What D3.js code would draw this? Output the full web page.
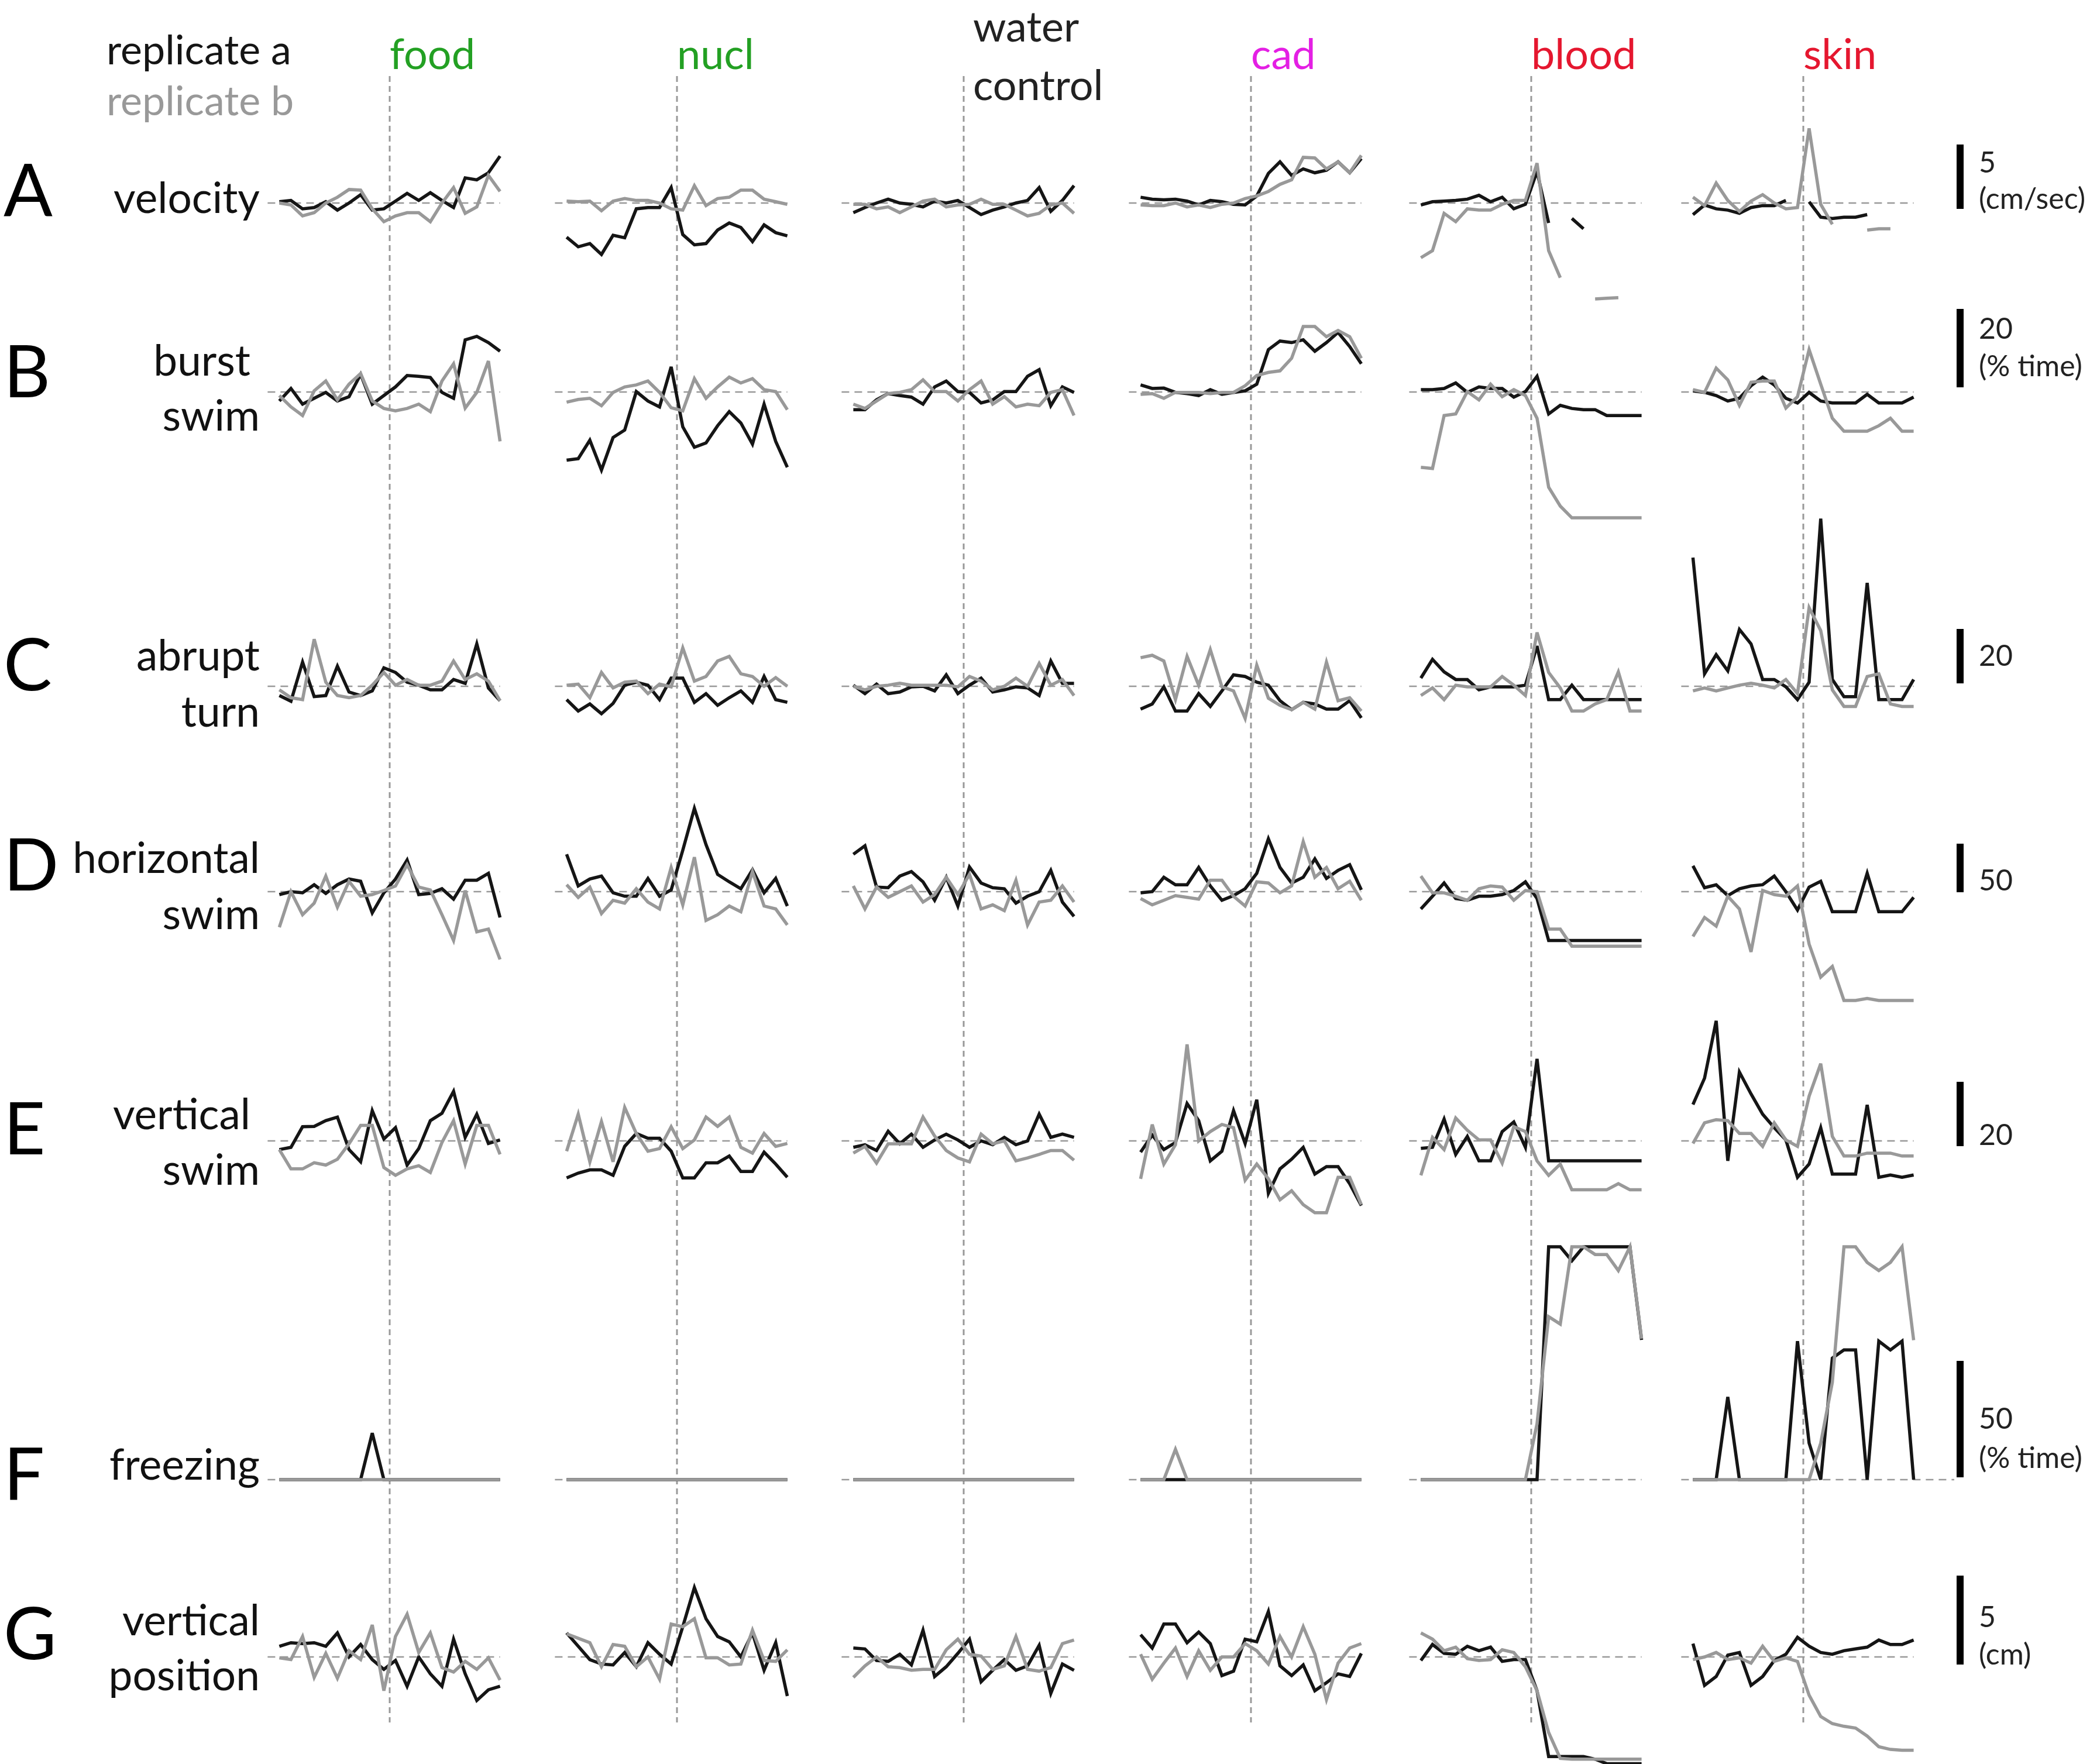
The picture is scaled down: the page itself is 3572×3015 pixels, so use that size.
<!DOCTYPE html>
<html>
<head>
<meta charset="utf-8">
<script src="https://cdn.jsdelivr.net/npm/d3@7"></script>
<style>
    html, body { margin: 0; padding: 0; background: #fff; }
    svg { display: block; font-family: Lato, "Open Sans", sans-serif; }
</style>
</head>
<body>
<svg id="chart" width="3572" height="3015"></svg>
<script>
// columns (stimulus) and rows (behaviour measure)
var conditions = [["food"], ["nucl"], ["water", "control"], ["cad"], ["blood"], ["skin"]];
var conditionColors = ["#23a023", "#23a023", "#222222", "#e41fe4", "#e5172f", "#e5172f"];
var rowLetters = ["A", "B", "C", "D", "E", "F", "G"];
var rowLabels = [["velocity"], ["burst", "swim"], ["abrupt", "turn"], ["horizontal", "swim"],
    ["vertical", "swim"], ["freezing"], ["vertical", "position"]];
var scaleValues = [5, 20, 20, 50, 20, 50, 5];
var scaleLabels = [["5", "(cm/sec)"], ["20", "(% time)"], ["20"], ["50"], ["20"], ["50", "(% time)"], ["5", "(cm)"]];
var replicates = ["replicate a", "replicate b"];

// values per column: food, nucl, water, cad, blood, skin (20 time bins each)
var velocity_a = [
    [0.1, 0.2, -0.45, -0.35, 0.1, -0.55, 0, 0.65, -0.55, -0.45, 0.15, 0.75, 0.2, 0.8, 0.2, -0.35, 1.95, 1.8, 2.35, 3.65],
    [-2.65, -3.4, -3.15, -4, -2.5, -2.7, -0.45, -0.35, -0.35, 1.2, -2.45, -3.25, -3.15, -2.1, -1.55, -1.9, -3, -1.7, -2.3, -2.55],
    [-0.75, -0.35, 0, 0.3, 0, -0.1, -0.3, 0.15, 0, 0.2, -0.35, -0.9, -0.55, -0.3, 0, 0.2, 1.2, -0.65, 0.2, 1.35],
    [0.45, 0.3, 0.25, 0.3, 0.15, -0.15, 0.2, 0.1, -0.1, -0.15, 0.55, 2.3, 3.2, 2.15, 2.65, 2.35, 2.55, 3.2, 2.35, 3.45],
    [-0.15, 0.1, 0.15, 0.2, 0.3, 0.6, 0.1, 0.45, -0.45, -0.1, 2.45, -1.55, null, -1.2, -2, null, null, null, null, null],
    [-0.9, -0.15, -0.45, -0.55, -0.8, -0.35, -0.2, -0.2, 0.2, null, 0.1, -1.1, -1.2, -1.1, -1.1, -0.9, null, null, null, null]
];
var velocity_b = [
    [0, -0.15, -1, -0.75, 0, 0.45, 1.05, 1, -0.45, -1.45, -1, -0.75, -0.75, -1.45, 0, 1.2, -0.8, -0.3, 2.15, 0.9],
    [0.15, 0.1, 0.15, -0.6, 0.15, 0.35, 0.2, 0.2, 0, -0.45, -0.55, 1.35, -0.2, 0.35, 0.45, 1, 1, 0.3, 0.1, -0.1],
    [-0.1, -0.1, -0.45, -0.3, -0.75, -0.3, 0.15, 0.3, -0.3, -0.15, -0.1, 0.3, -0.1, -0.1, -0.55, -1, -0.8, -0.15, 0, -0.8],
    [-0.15, -0.2, -0.2, 0, -0.3, -0.15, -0.35, -0.1, 0, 0.35, 0.55, 0.9, 1.45, 1.8, 3.55, 3.5, 2.65, 3.2, 2.35, 3.7],
    [-4.25, -3.7, -0.8, -1.45, -0.45, -0.55, -0.55, -0.1, 0.2, 0.2, 3.1, -3.7, -5.8, null, null, -7.45, -7.4, -7.35, null, null],
    [0.45, -0.2, 1.55, 0.2, -0.65, 0.15, 0.65, 0, -0.45, -0.35, 5.8, -0.1, -1.65, null, null, -2.1, -2, -2, null, null]
];
var burst_a = [
    [-2.3, 0.9, -3.1, -1.6, -0.1, -2.3, -1.2, 4.5, -3.1, -0.9, 1.3, 4.2, 4, 3.7, -0.1, -1.6, 13.3, 14.2, 12.6, 10.4],
    [-17.4, -17, -12.3, -19.9, -11.6, -9.7, 0.1, -2.3, -3.8, 6.4, -8.9, -14.1, -13, -8.6, -5, -7.9, -13.3, -3.1, -12.6, -19.2],
    [-4.5, -4.5, -2, -0.4, -0.9, -1.3, -3.1, 1.3, 2.8, 0.1, -0.1, -2.8, -2, 0.1, 0.1, 4, 5.7, -3.5, 1.3, -0.1],
    [1.8, 0.9, 1, -0.1, -0.4, -0.9, 0.6, -0.6, -0.1, 0.3, 2, 10.8, 13, 12.6, 13.3, 10.4, 12.6, 15.2, 11.6, 7.2],
    [0.6, 0.6, 0.9, 2.3, -0.1, 1.3, 0.9, 0.9, -1.3, 0.1, 4, -5.6, -3.4, -4.2, -4.5, -4.5, -6, -6, -6, -6],
    [0.3, -0.1, -0.9, -2.3, -1.6, 1.6, 3.8, 1.8, -1.6, -2.8, -0.1, -2.3, -2.8, -2.8, -2.8, -0.6, -2.8, -2.8, -2.8, -1.3]
];
var burst_b = [
    [-0.9, -3.8, -6, 0.3, 2.8, -2, 2, 4.7, -2.3, -4.2, -4.8, -4.2, -3.1, -5, 2.8, 7.2, -4.1, -0.1, 7.9, -12.6],
    [-2.6, -1.9, -1.6, -3.5, -0.1, 1.3, 1.8, 2.8, -0.1, -4, -4.8, 3.4, -1.6, 1.3, 3.8, 2.3, 3.4, 0.6, 0.1, -4.5],
    [-3.1, -4.2, -2.3, -0.4, -0.1, 0.6, 3.1, 0.1, 0.1, -2.3, 0.6, 2.8, -3.1, -1.2, -3.8, -3.1, -3.5, -0.1, 0.6, -6],
    [-0.6, -0.4, -1.6, -0.1, -0.1, -0.1, -0.4, -0.1, -0.1, 1.6, 4.2, 5, 5.4, 8.6, 16.7, 16.7, 14.1, 15.7, 14.1, 8.6],
    [-19.2, -19.5, -6, -5.6, 0.1, -2, 2, -1.2, 0.6, -0.9, -6.7, -24.3, -29.1, -32.1, -32.1, -32.1, -32.1, -32.1, -32.1, -32.1],
    [0.6, -0.1, 6.1, 3.1, -3.4, 2.5, 2.8, 2.8, -4.1, -1.2, 10.8, 2, -6.7, -10, -10, -10, -8.6, -6.7, -10, -10]
];
var turn_a = [
    [-3.4, -5.5, 8.9, -3.8, -3.4, 7.4, -2.1, -3.4, -1.7, 6.8, 5.1, 1.5, 0.4, -1.3, -1.3, 2.5, 1.1, 15.6, -0.6, -5.3],
    [-4.9, -9.1, -6.5, -10.1, -6.3, 0.4, 1.5, 0.4, -4.9, 3, 3, -5.9, -2.7, -7, -4.2, -1.7, -5.9, 3.6, -4.9, -5.9],
    [0.4, -2.7, 0.8, -2.7, -2.1, -0.2, 0, -1.7, 4.2, -2.7, 0.4, 3, -2.1, -1.3, -0.2, -0.6, -3.4, 9.3, 1.1, 1.1],
    [-8.4, -6.5, -0.2, -9.1, -9.1, -2.7, -7.4, -1.7, 4.2, 3.6, 1.5, 0.4, -5.3, -8.6, -5.9, -6.5, -8.4, -8.4, -5.3, -11.6],
    [3, 9.9, 5.3, 2.5, 2.5, -1.3, -0.2, -0.2, -0.2, 0.4, 14.8, -4.9, -4.9, 0.4, -4.9, -4.9, -4.9, -4.9, -4.9, -4.9],
    [47.3, 4.6, 11.6, 5.7, 20.9, 15.6, 2.5, 2.5, -0.2, -4.9, 1.5, 61.6, 2.5, -3.8, -3.8, 38, -4.9, -4.9, -4.9, 2.5]
];
var turn_b = [
    [-1.3, -4.2, -4.9, 17.3, 1.5, -3.4, -4.2, -3.4, 0.4, 5.1, 0.4, 2.5, 0.4, 0.4, 1.9, 9.3, 2.5, 4.6, 1.9, -5.3],
    [0.4, 0.8, -4.2, 5.1, -0.6, 1.5, 1.9, -2.7, 0.8, -0.2, 14.1, 1.9, 3.6, 9.3, 11, 4.6, 3.6, 0, 3.2, 0],
    [0, -1.3, 0, 0.4, 1.1, 0.4, 0.4, 0.4, 0.4, -0.2, 3.6, 1.9, -1.3, 0, 3, 0, 8.4, 0.4, 2.5, -3.4],
    [10.5, 11.4, 9.3, -4.9, 11, 0.4, 13.5, -0.2, -1.7, -11.8, 7.8, -4.4, -7, -8.6, -5.9, -8.4, 8.9, -5.3, -4.2, -9.1],
    [-3.4, -0.6, -4.9, 0.4, -0.2, -0.2, -0.2, 3.6, 0.4, -3.4, 19.8, 5.1, -0.6, -9.1, -9.1, -6.5, -4.9, 5.3, -9.1, -9.1],
    [-1.7, -0.6, -1.7, -0.6, 0.4, 1.1, 0.4, -0.6, 2.5, -2.7, 28.9, 20.5, -1.3, -7.4, -7.4, 3.6, 4.6, -6.5, -7.4, -7.4]
];
var horiz_a = [
    [-3, 0, -1.2, 7.1, -1.8, 7.1, 13, 10.7, -21.9, -1.2, 13, 32.5, -3, -1.8, 3, -7.7, 11.8, 11.8, 18.9, -26.6],
    [38.5, 5.9, 13, 16, -1.2, -4.7, -4.7, 13.6, -4.7, 1.8, 42.6, 85.8, 48.5, 17.8, 10.1, 3, 22.5, -1.2, 13.6, -14.8],
    [38.5, 47.3, 4.7, 4.1, 16, 20.7, 10.1, -8.9, 14.8, -14.8, 25.4, 8.9, 4.1, 3, -11.8, -4.7, 0, 21.9, -10.7, -25.4],
    [-1.2, 0, 14.8, 7.1, 7.1, 24.9, 5.9, -8.9, -4.1, 3, 18.9, 54.4, 24.9, 8.9, 14.8, 33.7, 13.6, 21.9, 27.8, 1.8],
    [-17.8, -4.7, 8.9, -7.1, -8.9, -4.7, -4.7, -3, 1.2, 10.1, -7.1, -50.3, -50.3, -50.3, -50.3, -50.3, -50.3, -50.3, -50.3, -50.3],
    [26.6, 4.1, 7.1, -4.1, 3, 5.9, 7.1, 16, 0, -18.9, 4.7, 10.7, -20.7, -20.7, -20.7, 18.9, -20.7, -20.7, -20.7, -5.9]
];
var horiz_b = [
    [-36.7, 0, -23.7, -11.8, 16, -16, 10.7, -4.7, -3, 1.2, 5.9, 27.8, 4.7, 1.8, -23.7, -50.3, 1.2, -41.4, -38.5, -69.8],
    [7.1, -5.9, 4.7, -22.5, -8.9, -11.8, 3, -10.7, -17.8, 24.9, -13.6, 35.5, -29.6, -23.7, -14.8, -20.7, 20.7, -14.8, -17.8, -34.3],
    [5.9, -17.8, 4.7, -5.9, 0, 5.9, -10.7, -3, 14.8, -3, 17.8, -17.8, -13.6, -19.5, 11.8, -34.3, -10.7, -8.9, 5.9, -10.7],
    [-7.1, -13.6, -8.9, -4.1, -5.9, -7.7, 11.8, 11.8, -4.7, -14.8, 10.1, 8.9, -1.2, 5.9, 51.5, 14.8, 24.9, 3, 10.7, -8.9],
    [16, -1.2, -1.2, -4.7, -8.9, 3, 5.9, 4.7, -8.9, 1.2, 0, -38.5, -38.5, -56.2, -56.2, -56.2, -56.2, -56.2, -56.2, -56.2],
    [-46.2, -26.6, -35.5, -4.7, -17.8, -62.1, 1.2, -3, -4.7, 5.9, -54, -88, -77, -112, -112, -110, -112, -112, -112, -112]
];
var vswim_a = [
    [-2.7, -2, 4.4, 4.5, 6.3, 7.4, -2.7, -6.5, 9.4, 0.6, 4.1, -7.5, -2.4, 6.3, 8.6, 15.4, 1.1, 8.3, -0.8, 0.3],
    [-11.5, -10, -9, -9, -10.7, -1.7, 2.3, 0.8, 0.8, -3.2, -11.5, -11.5, -6.8, -6.8, -4.7, -9.5, -9.5, -3.5, -7.2, -11.3],
    [-2, -1.2, -3, 3, -0.9, 2.1, -2, 0.3, 2.1, 0.3, -2, 0, -1.2, 1.1, -1.2, 0, 8.3, 1.1, 2.1, 1.1],
    [-3.5, 1.8, -2.7, -0.5, 11.6, 6.3, -6.2, -3.2, 9.4, -0.8, 12.8, -16.3, -8.7, -5.7, -2, -10.3, -8, -8, -13.3, -20.1],
    [-2.3, -2, 6.8, -4.2, 1.4, -6.2, -6.2, 2.9, 5.9, -2, 25.5, -6.2, -6.2, -6.2, -6.2, -6.2, -6.2, -6.2, -6.2, -6.2],
    [11.3, 19.5, 37.3, -6.2, 21.4, 14.6, 8.3, 4.1, 0.3, -11.3, -7.2, 4.1, -10.3, -10.3, -10.3, 11.2, -11.3, -10.6, -11.3, -10.6]
];
var vswim_b = [
    [-2.7, -8.7, -8.7, -6.8, -7.5, -5.7, -0.9, 4.8, 4.8, -8.3, -10.7, -8.7, -7.7, -9.8, -0.5, 6.3, -7.2, 4.8, 4.8, -4.2],
    [-3.2, 8.3, -6.5, 6, -6.5, 10.4, 2.3, -3.2, -2.4, 4.4, -2.4, 0.3, 7.4, 4.5, 7.4, -2, -3.8, 2.3, -1.7, -0.8],
    [-3.8, -1.7, -6.9, -0.9, -0.9, -0.9, 7.4, 1.5, -3, -5.3, -6.5, 2.1, -0.9, 0, -6.2, -5.3, -4.2, -3, -3, -6],
    [-11.8, 5.1, -7.2, -1.2, 30, 0, 2.9, 5.1, 4.1, -12.2, -7.2, -11.8, -18.3, -15.5, -19.8, -22.3, -22.3, -11.3, -11.3, -19.8],
    [-10.7, 1.1, -2.7, 7.1, 3.3, 0.3, 0.3, -6.9, 4.4, 2.9, -6.2, -10.7, -7.2, -15.2, -15.2, -15.2, -15.2, -13.3, -15.2, -15.2],
    [-0.8, 5.6, 6.6, 6.3, 2.3, 2.3, -1.7, 5.6, 0.3, -1.7, 13.9, 24, 1.4, -4.7, -4.7, -3.8, -3.8, -3.8, -4.7, -4.7]
];
var freeze_a = [
    [0, 0, 0, 0, 0, 0, 0, 0, 20, 0, 0, 0, 0, 0, 0, 0, 0, 0, 0, 0],
    [0, 0, 0, 0, 0, 0, 0, 0, 0, 0, 0, 0, 0, 0, 0, 0, 0, 0, 0, 0],
    [0, 0, 0, 0, 0, 0, 0, 0, 0, 0, 0, 0, 0, 0, 0, 0, 0, 0, 0, 0],
    [0, 0, 0, 0, 0, 0, 0, 0, 0, 0, 0, 0, 0, 0, 0, 0, 0, 0, 0, 0],
    [0, 0, 0, 0, 0, 0, 0, 0, 0, 0, 0, 100, 100, 94, 100, 100, 100, 100, 100, 60],
    [0, 0, 0, 35.5, 0, 0, 0, 0, 0, 59.5, 15.7, 0, 52.2, 55.7, 55.7, 0, 59.5, 55.7, 59.5, 0]
];
var freeze_b = [
    [0, 0, 0, 0, 0, 0, 0, 0, 0, 0, 0, 0, 0, 0, 0, 0, 0, 0, 0, 0],
    [0, 0, 0, 0, 0, 0, 0, 0, 0, 0, 0, 0, 0, 0, 0, 0, 0, 0, 0, 0],
    [0, 0, 0, 0, 0, 0, 0, 0, 0, 0, 0, 0, 0, 0, 0, 0, 0, 0, 0, 0],
    [0, 0, 0, 13, 0, 0, 0, 0, 0, 0, 0, 0, 0, 0, 0, 0, 0, 0, 0, 0],
    [0, 0, 0, 0, 0, 0, 0, 0, 0, 0, 24, 70, 66.8, 100, 100, 96.7, 96.7, 89.8, 100, 60.5],
    [0, 0, 0, 0, 0, 0, 0, 0, 0, 0, 0, 15.7, 41.8, 100, 100, 93.3, 89.8, 93.3, 100, 59.9]
];
var vpos_a = [
    [0.6, 0.8, 0.75, 0.8, 0.6, 1.35, 0, 0.7, -0.15, -0.7, -0.2, -1.65, 0, -0.95, -1.65, 1, -0.95, -2.45, -1.85, -1.65],
    [1.35, 0.6, -0.15, -0.4, -0.45, 0.25, -0.55, 0.8, 0.15, -0.4, 1.7, 3.9, 2.15, 1.15, 0.85, 0, 1.35, -0.75, 0.8, -2.2],
    [0.5, 0.45, -0.2, -0.25, 0.15, -0.45, 1.5, -1.1, -0.55, 0.2, 1, -1.4, -0.75, -0.15, -0.75, -0.5, 0.65, -2.05, -0.4, -0.75],
    [1.25, 0.5, 1.85, 1.85, 0.8, 1.4, 0.75, -1.05, -0.8, 1, 0.85, 2.55, -0.5, -1.05, -0.45, -1.9, -1.45, -0.95, -1.1, 0.2],
    [-0.2, 0.7, 0.2, 0.15, 0.6, 0.35, 0.55, -0.25, -0.15, -0.15, -1.9, -5.6, -5.6, -5.6, -5.6, -5.75, -6, -6, -6, -6],
    [0.75, -1.6, -1.1, 0.1, 0.25, -1.6, -1.1, -0.2, 0.15, 1.1, 0.6, 0.25, 0.15, 0.35, 0.45, 0.55, 0.95, 0.7, 0.7, 0.95]
];
var vpos_b = [
    [-0.05, -0.15, 1.15, -1.15, 0.2, -1.2, 0.35, -0.15, 1.8, -1.9, 1.15, 2.4, 0.25, 1.35, -0.6, -0.85, -0.25, -0.7, -0.05, -1.3],
    [1.3, 1.05, 0.8, -0.55, 0.7, 0.6, -0.55, 0, -1.25, 1.85, 1.7, 2.15, -0.05, -0.05, -0.45, -0.4, 1.5, -0.2, -0.25, 0.4],
    [-1.15, -0.5, 0, -0.55, -0.6, -0.75, -0.7, -0.7, 0.4, 1, 0.15, 0.05, -0.7, -0.5, 1.15, -0.7, -0.8, -0.6, 0.75, 0.95],
    [0.15, -1.25, -0.35, 0.5, -1.1, 0.35, -0.75, 0, 0, 0.75, 0.35, -0.4, 1.15, 0, 1.7, 0.15, -2.4, -0.35, 0.5, 0.75],
    [1.35, 1, 0.35, 0.55, -0.1, -0.2, -0.15, 0.4, 0.25, -0.55, -1.9, -4.25, -5.7, -5.75, -5.75, -5.75, -5.75, -5.75, -5.75, -5.75],
    [-0.15, 0, 0.25, -0.15, -0.05, -0.35, 0.6, -0.25, -0.05, -0.25, -2.15, -3.35, -3.75, -3.9, -4, -4.45, -5.05, -5.2, -5.25, -5.25]
];

var seriesA = [velocity_a, burst_a, turn_a, horiz_a, vswim_a, freeze_a, vpos_a];
var seriesB = [velocity_b, burst_b, turn_b, horiz_b, vswim_b, freeze_b, vpos_b];

// ---- layout (pixels) ----
var colCenter = [666, 1157, 1647, 2138, 2617, 3082];
var halfWidth = 188.6;
var rowBase = [347, 670, 1173, 1524, 1950, 2529, 2832];
var barLength = [110, 134, 93, 83, 110, 199, 152];
var barShift = [10, -8, -5, 1, 9, -4, 13];
var barLabelDy = [[-62, 0], [-83, -19], [-30], [-3], [-2], [-83, -16], [-64, 0]];
var letterBase = [369, 679, 1180, 1522, 1973, 2563, 2836];
var labelBase = [[364], [642, 736], [1146, 1242], [1492, 1588], [1930, 2025], [2529], [2795, 2889]];
var labelRight = [[444], [428, 444], [444, 444], [444, 444], [428, 444], [444], [444, 444]];

var grayCol = "#999999";
var blackCol = "#151515";

var svg = d3.select("#chart");

var yScales = rowBase.map(function (b, r) {
    return d3.scaleLinear().domain([0, scaleValues[r]]).range([b, b - barLength[r]]);
});
var xScales = colCenter.map(function (c) {
    return d3.scaleLinear().domain([0, 19]).range([c - halfWidth, c + halfWidth]);
});

// vertical stimulus lines
svg.append("g").selectAll("line")
    .data(colCenter)
    .enter()
    .append("line")
    .attr("x1", function (d) { return d; })
    .attr("x2", function (d) { return d; })
    .attr("y1", 130)
    .attr("y2", 2944)
    .attr("stroke", grayCol)
    .attr("stroke-width", 3)
    .attr("stroke-dasharray", "10,7");

// panels
for (var r = 0; r < rowBase.length; r++) {
    var y = yScales[r];
    for (var c = 0; c < colCenter.length; c++) {
        var x = xScales[c];
        var g = svg.append("g");
        var xEnd = (r === 5 && c === 5) ? 3340 : x(19);
        g.append("line")
            .attr("x1", x(0) - 20).attr("x2", xEnd)
            .attr("y1", y(0)).attr("y2", y(0))
            .attr("stroke", grayCol)
            .attr("stroke-width", 2.5)
            .attr("stroke-dasharray", "13,9");

        var line = d3.line()
            .defined(function (d) { return d !== null; })
            .x(function (d, i) { return x(i); })
            .y(function (d) { return y(d); });

        g.append("path")
            .datum(seriesA[r][c])
            .attr("d", line)
            .attr("fill", "none")
            .attr("stroke", blackCol)
            .attr("stroke-width", 5.5)
            .attr("stroke-linejoin", "miter");
        g.append("path")
            .datum(seriesB[r][c])
            .attr("d", line)
            .attr("fill", "none")
            .attr("stroke", grayCol)
            .attr("stroke-width", 5.5)
            .attr("stroke-linejoin", "miter");
    }

    // scale bar
    svg.append("rect")
        .attr("x", 3344)
        .attr("y", y(scaleValues[r]) + barShift[r])
        .attr("width", 12)
        .attr("height", y(0) - y(scaleValues[r]))
        .attr("fill", "#000");
    scaleLabels[r].forEach(function (t, k) {
        svg.append("text")
            .attr("x", 3382)
            .attr("y", y(0) + barShift[r] + barLabelDy[r][k])
            .attr("font-size", 50)
            .attr("fill", "#222")
            .text(t);
    });

    // row letter and label
    svg.append("text")
        .attr("x", 6)
        .attr("y", letterBase[r])
        .attr("font-size", 124)
        .attr("fill", "#000")
        .text(rowLetters[r]);
    rowLabels[r].forEach(function (t, k) {
        svg.append("text")
            .attr("x", labelRight[r][k])
            .attr("y", labelBase[r][k])
            .attr("text-anchor", "end")
            .attr("font-size", 73)
            .attr("fill", "#111")
            .text(t);
    });
}

// column headers
conditions.forEach(function (lines, c) {
    var top = lines.length > 1 ? 71 : 118;
    lines.forEach(function (t, k) {
        svg.append("text")
            .attr("x", colCenter[c] + (lines.length > 1 ? 16 : 0))
            .attr("y", top + k * 100)
            .attr("font-size", 72)
            .attr("fill", conditionColors[c])
            .text(t);
    });
});

// replicate legend
svg.append("text").attr("x", 182).attr("y", 110).attr("font-size", 70)
    .attr("fill", blackCol).text(replicates[0]);
svg.append("text").attr("x", 182).attr("y", 197).attr("font-size", 70)
    .attr("fill", grayCol).text(replicates[1]);
</script>
</body>
</html>
